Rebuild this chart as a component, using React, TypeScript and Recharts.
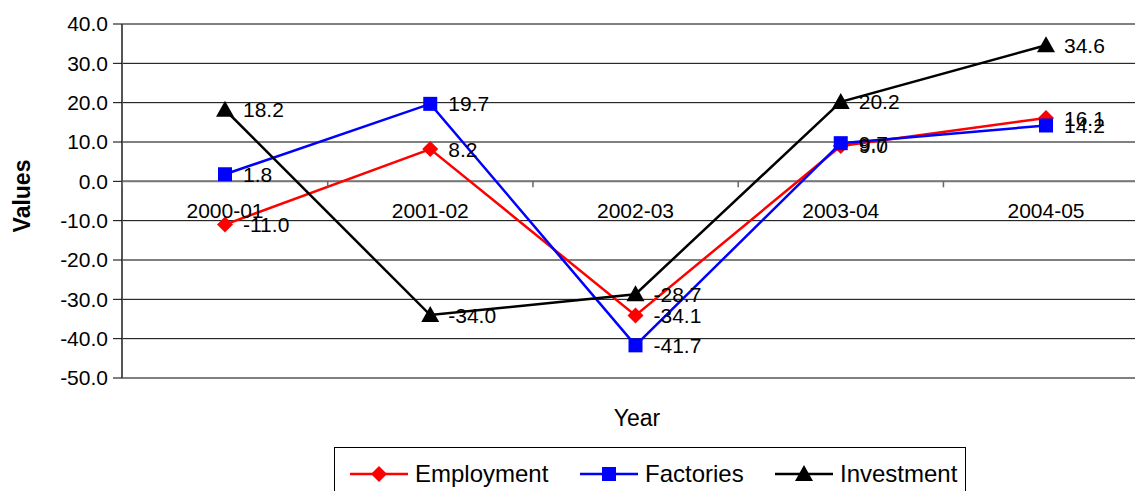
import {
  LineChart,
  Line,
  XAxis,
  YAxis,
  CartesianGrid,
  Legend,
  LabelList,
  ReferenceLine,
} from "recharts";

const years = ["2000-01", "2001-02", "2002-03", "2003-04", "2004-05"];
const employment = [-11.0, 8.2, -34.1, 9.0, 16.1];
const factories = [1.8, 19.7, -41.7, 9.7, 14.2];
const investment = [18.2, -34.0, -28.7, 20.2, 34.6];
const yTicks = [40, 30, 20, 10, 0, -10, -20, -30, -40, -50];

const Y_MIN = -50;
const Y_MAX = 40;
const CHART_W = 1160;
const AXIS_W = 122;
const RIGHT = 11;
const PLOT_TOP = 24;
const PLOT_H = 354;
const FONT = "'Liberation Sans', Arial, sans-serif";

const rows = years.map((year, i) => ({
  year,
  employment: employment[i],
  factories: factories[i],
  investment: investment[i],
}));

const series = [
  { key: "employment", name: "Employment", color: "#ff0000", shape: "diamond" },
  { key: "factories", name: "Factories", color: "#0000ff", shape: "square" },
  { key: "investment", name: "Investment", color: "#000000", shape: "triangle" },
];

function Marker({ cx, cy, shape, color }: any) {
  if (cx == null || cy == null) return null;
  if (shape === "diamond") {
    return (
      <polygon
        points={`${cx},${cy - 8} ${cx + 8},${cy} ${cx},${cy + 8} ${cx - 8},${cy}`}
        fill={color}
      />
    );
  }
  if (shape === "square") {
    return <rect x={cx - 7} y={cy - 7} width={14} height={14} fill={color} />;
  }
  return (
    <polygon
      points={`${cx},${cy - 9} ${cx + 9},${cy + 7} ${cx - 9},${cy + 7}`}
      fill={color}
    />
  );
}

// category labels sit just under the zero line, like a crossing axis
const zeroY = PLOT_TOP + (PLOT_H * Y_MAX) / (Y_MAX - Y_MIN);
const halfBand = (CHART_W - AXIS_W - RIGHT) / years.length / 2;

const CategoryTick = ({ x, payload, index }: any) => (
  <g>
    <line x1={x + halfBand} y1={zeroY} x2={x + halfBand} y2={zeroY + 6} stroke="#666" strokeWidth={1.5} />
    {index === 0 && (
      <line x1={x - halfBand} y1={zeroY} x2={x - halfBand} y2={zeroY + 6} stroke="#666" strokeWidth={1.5} />
    )}
    <text
      x={x}
      y={zeroY + 37}
      textAnchor="middle"
      fontFamily={FONT}
      fontSize={21}
      fill="#000"
    >
      {payload.value}
    </text>
  </g>
);

const ValueLabel = ({ x, y, value }: any) => (
  <text
    x={x + 18}
    y={y}
    dy="0.36em"
    fontFamily={FONT}
    fontSize={21}
    fill="#000"
  >
    {Number(value).toFixed(1)}
  </text>
);

const LegendBox = () => {
  const spots = [15, 245, 440];
  return (
    <div
      style={{
        position: "relative",
        width: 632,
        height: 60,
        border: "1px solid #000",
        background: "#fff",
        boxSizing: "border-box",
      }}
    >
      {series.map((s, i) => (
        <div
          key={s.key}
          style={{
            position: "absolute",
            left: spots[i],
            top: 12,
            display: "flex",
            alignItems: "center",
            fontFamily: FONT,
            fontSize: 24,
            color: "#000",
            whiteSpace: "nowrap",
          }}
        >
          <svg width={58} height={22} style={{ marginRight: 7 }}>
            <line x1={0} y1={11} x2={58} y2={11} stroke={s.color} strokeWidth={2.5} />
            <Marker cx={29} cy={11} shape={s.shape} color={s.color} />
          </svg>
          {s.name}
        </div>
      ))}
    </div>
  );
};

export default function App() {
  return (
    <div
      style={{
        position: "absolute",
        left: 0,
        top: 0,
        width: 1135,
        height: 491,
        overflow: "hidden",
        background: "#fff",
      }}
    >
      <LineChart
        width={CHART_W}
        height={491}
        data={rows}
        margin={{ top: PLOT_TOP, right: RIGHT, bottom: 112, left: 0 }}
      >
        <CartesianGrid vertical={false} stroke="#000" strokeWidth={1} />
        <ReferenceLine y={0} stroke="#777" strokeWidth={2} />
        <XAxis
          dataKey="year"
          height={1}
          padding={{ left: 103, right: 103 }}
          axisLine={false}
          tickLine={false}
          tick={<CategoryTick />}
          interval={0}
          label={{
            content: () => (
              <text
                x={637}
                y={426}
                textAnchor="middle"
                fontFamily={FONT}
                fontSize={23}
                fill="#000"
              >
                Year
              </text>
            ),
          }}
        />
        <YAxis
          width={AXIS_W}
          domain={[Y_MIN, Y_MAX]}
          ticks={yTicks}
          interval={0}
          tickFormatter={(v: number) => v.toFixed(1)}
          tick={{ fontFamily: FONT, fontSize: 21, fill: "#000" }}
          tickSize={9}
          tickMargin={5}
          axisLine={{ stroke: "#555", strokeWidth: 2 }}
          tickLine={{ stroke: "#000" }}
          label={{
            content: () => (
              <text
                x={0}
                y={0}
                transform="translate(30,196) rotate(-90)"
                textAnchor="middle"
                fontFamily={FONT}
                fontSize={23}
                fontWeight="bold"
                fill="#000"
              >
                Values
              </text>
            ),
          }}
        />
        {series.map((s) => (
          <Line
            key={s.key}
            dataKey={s.key}
            name={s.name}
            stroke={s.color}
            strokeWidth={2.5}
            isAnimationActive={false}
            dot={(p: any) => (
              <Marker key={`${s.key}-${p.index}`} cx={p.cx} cy={p.cy} shape={s.shape} color={s.color} />
            )}
            activeDot={false}
          >
            <LabelList dataKey={s.key} content={<ValueLabel />} />
          </Line>
        ))}
        <Legend
          layout="horizontal"
          verticalAlign="middle"
          align="center"
          wrapperStyle={{ left: 334, top: 447, width: 632, height: 60 }}
          content={<LegendBox />}
        />
      </LineChart>
    </div>
  );
}
